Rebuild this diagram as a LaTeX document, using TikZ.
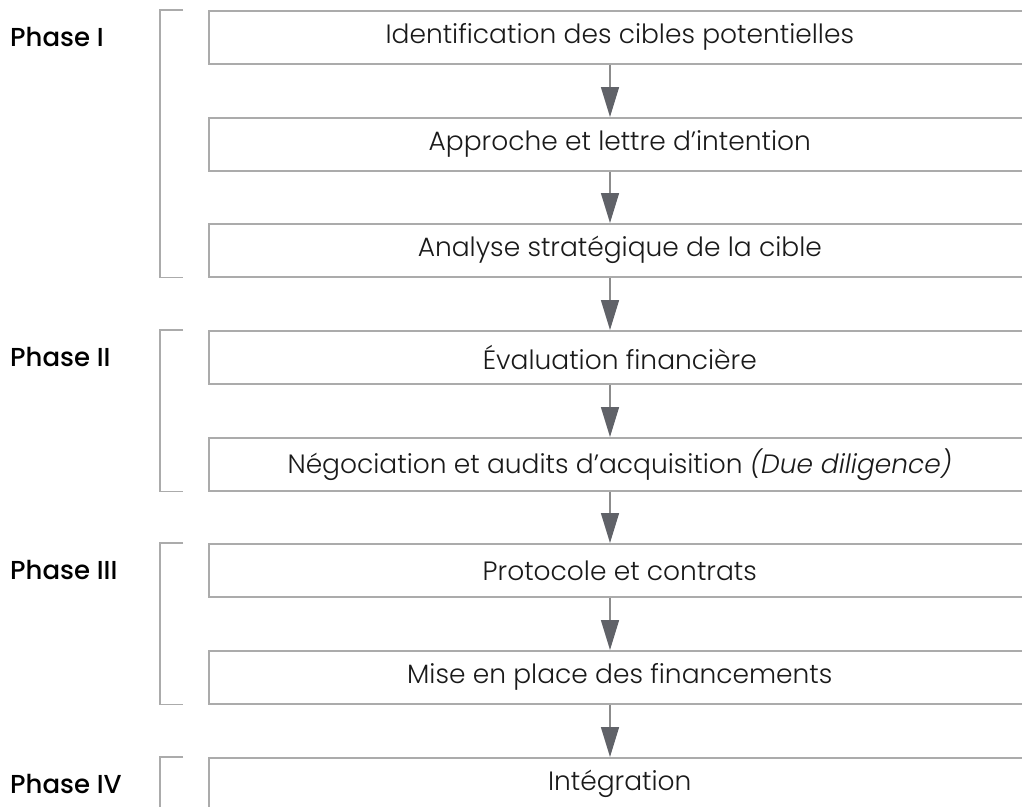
\documentclass[tikz,border=0pt]{standalone}
\usepackage{fontspec}
\usetikzlibrary{arrows.meta}
\IfFontExistsTF{Poppins Light}{%
  \IfFontExistsTF{Poppins Light Italic}%
    {\newfontfamily\boxfont[ItalicFont={Poppins Light Italic}]{Poppins Light}}%
    {\newfontfamily\boxfont{Poppins Light}}}%
  {\newfontfamily\boxfont{Poppins}}
\IfFontExistsTF{Poppins Medium}%
  {\newfontfamily\phasefont{Poppins Medium}}%
  {\newfontfamily\phasefont{Poppins}}
\definecolor{boxgray}{HTML}{ABABAB}
\definecolor{linegray}{HTML}{8C8C8C}
\definecolor{headgray}{HTML}{606268}
\definecolor{textblack}{HTML}{1A1A1A}
\begin{document}
\begin{tikzpicture}[x=1pt,y=-1pt,
  stepbox/.style={draw=boxgray, line width=1.6pt, minimum width=822pt, minimum height=53pt,
    inner sep=0pt, font=\boxfont\fontsize{26.5}{30}\selectfont, text=textblack, anchor=north west},
  phaselabel/.style={font=\phasefont\fontsize{26}{30}\selectfont, anchor=west, inner sep=0pt},
  flow/.style={draw=linegray, line width=1.5pt,
    -{Triangle[width=18pt,length=30pt,fill=headgray,color=headgray]}},
  bracket/.style={draw=boxgray, line width=1.6pt}]
\useasboundingbox (0,0) rectangle (1022,806);
\clip (0,0) rectangle (1022,806);
\fill[white] (0,0) rectangle (1022,806);

\node[stepbox] (b1) at (208,10)  {Identification des cibles potentielles};
\node[stepbox] (b2) at (208,117) {Approche et lettre d’intention};
\node[stepbox] (b3) at (208,223) {Analyse stratégique de la cible};
\node[stepbox] (b4) at (208,330) {Évaluation financière};
\node[stepbox] (b5) at (208,437) {Négociation et audits d’acquisition \textit{(Due diligence)}};
\node[stepbox] (b6) at (208,543) {Protocole et contrats};
\node[stepbox] (b7) at (208,650) {Mise en place des financements};
\node[stepbox] (b8) at (208,757) {Intégration};

\coordinate (ax) at (610,0);
\coordinate (lx) at (10,0);
\foreach \a/\b in {b1/b2,b2/b3,b3/b4,b4/b5,b5/b6,b6/b7,b7/b8}
  \draw[flow] (\a.south -| ax) -- (\b.north -| ax);

\node[phaselabel] (p1) at (b1.west -| lx) {Phase I};
\node[phaselabel] (p2) at (b4.west -| lx) {Phase II};
\node[phaselabel] (p3) at (b6.west -| lx) {Phase III};
\node[phaselabel] (p4) at (b8.west -| lx) {Phase IV};

\draw[bracket] ([xshift=-25]b1.north west) -- ([xshift=-48]b1.north west)
  -- ([xshift=-48]b3.south west) -- ([xshift=-25]b3.south west);
\draw[bracket] ([xshift=-25]b4.north west) -- ([xshift=-48]b4.north west)
  -- ([xshift=-48]b5.south west) -- ([xshift=-25]b5.south west);
\draw[bracket] ([xshift=-25]b6.north west) -- ([xshift=-48]b6.north west)
  -- ([xshift=-48]b7.south west) -- ([xshift=-25]b7.south west);
\draw[bracket] ([xshift=-25]b8.north west) -- ([xshift=-48]b8.north west)
  -- ([xshift=-48,yshift=-40]b8.south west);
\end{tikzpicture}
\end{document}
